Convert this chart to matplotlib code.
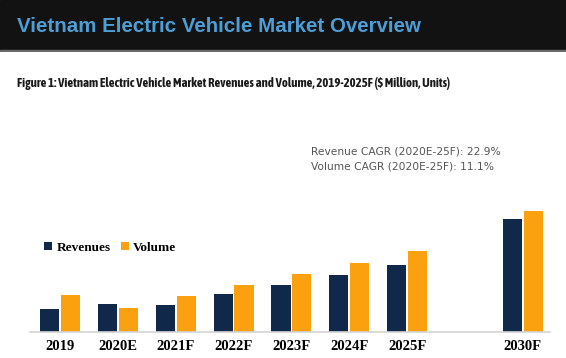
import matplotlib.pyplot as plt
from matplotlib import font_manager
import numpy as np

# ---- data (bar heights, arbitrary units) ----
years = ["2019", "2020E", "2021F", "2022F", "2023F", "2024F", "2025F", "2030F"]
slots = [0, 1, 2, 3, 4, 5, 6, 8]
revenues = [23, 28, 27, 38, 47, 57, 67, 113]
volume = [37, 24, 36, 47, 58, 69, 81, 121]
cagr_lines = ["Revenue CAGR (2020E-25F): 22.9%", "Volume CAGR (2020E-25F): 11.1%"]

NAVY = "#10284a"
ORANGE = "#fba10f"
W, H = 566, 358


def is_bold(w):
    return w in ("bold", "heavy", "black", "extra bold", "semibold") or \
        (isinstance(w, int) and w >= 600)


# pick an upright narrow bold sans for the figure caption if one is installed
fl = font_manager.fontManager.ttflist
narrow_bold = sorted({f.name for f in fl
                      if ("Narrow" in f.name or "Condensed" in f.name or f.stretch == "condensed")
                      and is_bold(f.weight) and f.style == "normal"})
cap_family = narrow_bold[:1] + ["DejaVu Sans"]
cap_size = 8.4 if narrow_bold else 6.2

fig = plt.figure(figsize=(W / 100, H / 100), dpi=100)

# header band
band = fig.add_axes([0, 1 - 52 / H, 1, 52 / H])
band.set_axis_off()
band.add_patch(plt.Rectangle((0, 0), 1, 1, transform=band.transAxes, color="#121212"))
band.add_patch(plt.Rectangle((0, 0), 1, 0.03, transform=band.transAxes, color="#6a6a6a"))
fig.text(17 / W, 1 - 27 / H, "Vietnam Electric Vehicle Market Overview",
         ha="left", va="center", fontsize=14.8, fontweight="bold",
         color="#4c9ed6", family=["Liberation Sans", "DejaVu Sans"])

cap = fig.text(17 / W, 1 - 84 / H,
               "Figure 1: Vietnam Electric Vehicle Market Revenues and Volume, 2019-2025F ($ Million, Units)",
               ha="left", va="center", fontsize=cap_size, fontweight="bold", color="#1a1a1a",
               family=cap_family)
# scale the caption so it spans the same width as in the reference (~438 px)
fig.canvas.draw()
cw = cap.get_window_extent().width
cap.set_fontsize(cap_size * 438 / cw)

# chart
ax = fig.add_axes([30 / W, 1 - 331.7 / H, 520 / W, 211.7 / H])
x = np.array(slots, dtype=float)
bw = 0.33
ax.bar(x - bw / 2 - 0.015, revenues, bw, color=NAVY, label="Revenues")
ax.bar(x + bw / 2 + 0.015, volume, bw, color=ORANGE, label="Volume")
ax.set_xlim(-0.52, 8.47)
ax.set_ylim(0, 211.7)
ax.set_yticks([])
ax.set_xticks(x)
ax.set_xticklabels(years, family=["Liberation Serif", "DejaVu Serif"],
                   fontweight="bold", fontsize=10.5)
ax.tick_params(axis="x", length=0, pad=6)
for s in ["top", "right", "left"]:
    ax.spines[s].set_visible(False)
ax.spines["bottom"].set_color("#d4d4d4")
ax.spines["bottom"].set_linewidth(1.2)

ax.legend(loc="upper left", bbox_to_anchor=(0.005, 0.48), ncol=2, frameon=False,
          handlelength=0.6, handleheight=0.6, handletextpad=0.3, columnspacing=0.8,
          prop={"family": ["Liberation Serif", "DejaVu Serif"], "weight": "bold", "size": 9.5})

fig.text(311 / W, 1 - 151 / H, cagr_lines[0], ha="left", va="center",
         fontsize=7.7, color="#555555")
fig.text(311 / W, 1 - 167 / H, cagr_lines[1], ha="left", va="center",
         fontsize=7.7, color="#555555")

fig.savefig("out.png", dpi=100, facecolor="white")
